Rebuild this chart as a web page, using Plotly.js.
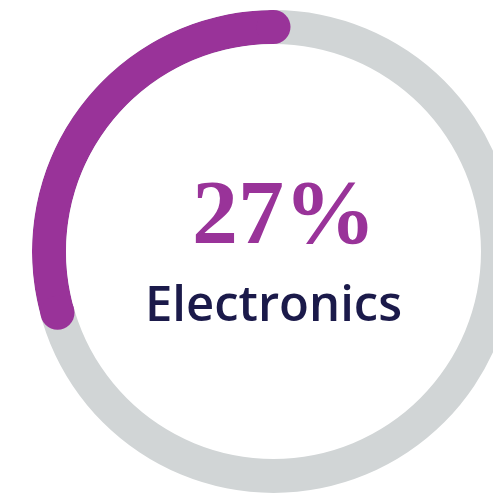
<!DOCTYPE html>
<html>
<head>
<meta charset="utf-8">
<script src="https://cdn.plot.ly/plotly-3.0.1.min.js"></script>
<style>
html, body { margin: 0; padding: 0; overflow: hidden; background: #ffffff; }
#chart { width: 515px; height: 495px; }
</style>
</head>
<body>
<div id="chart"></div>
<script>
// ---- data ----
const categories = ['Electronics', 'Other'];
const labelPercent = [27];          // value printed in the centre
const arcPercent = [29.4];          // visible length of the purple arc on the ring (% of 360°)
const centreLabels = ['27%', 'Electronics'];

// ---- styles ----
const purple = '#993399';
const track = '#d1d5d6';
const navy = '#1b1a4a';

const arcDeg = arcPercent[0] * 3.6;

const traces = [
  {
    type: 'barpolar',
    name: categories[0],
    r: [1],
    base: [0],
    theta: [arcDeg / 2],
    width: [arcDeg],
    marker: { color: purple, line: { width: 0 } },
    hoverinfo: 'skip'
  },
  {
    type: 'scatterpolar',
    mode: 'markers',
    name: categories[0] + ' caps',
    r: [0.5, 0.5],
    theta: [0, arcDeg],
    marker: { color: purple, size: 34, line: { width: 0 } },
    cliponaxis: false,
    hoverinfo: 'skip'
  }
];

const layout = {
  width: 515,
  height: 495,
  margin: { l: 32, r: 0, t: 10, b: 2, pad: 0 },
  paper_bgcolor: '#ffffff',
  showlegend: false,
  polar: {
    domain: { x: [0, 1], y: [0, 1] },
    hole: 207.5 / 241.5,
    bgcolor: track,
    radialaxis: { visible: false, range: [0, 1] },
    angularaxis: { visible: false, direction: 'counterclockwise', rotation: 90 }
  },
  annotations: [
    {
      xref: 'paper', yref: 'paper',
      x: 0.521, y: 0.5826,
      xanchor: 'center', yanchor: 'middle',
      text: centreLabels[0],
      showarrow: false,
      font: { family: 'Liberation Serif, DejaVu Serif, serif', size: 92, color: purple, weight: 700 }
    },
    {
      xref: 'paper', yref: 'paper',
      x: 0.501, y: 0.396,
      xanchor: 'center', yanchor: 'middle',
      text: centreLabels[1],
      showarrow: false,
      font: { family: 'Open Sans, sans-serif', size: 49, color: navy, weight: 600 }
    }
  ]
};

Plotly.newPlot('chart', traces, layout, { displayModeBar: false, staticPlot: true });
</script>
</body>
</html>
